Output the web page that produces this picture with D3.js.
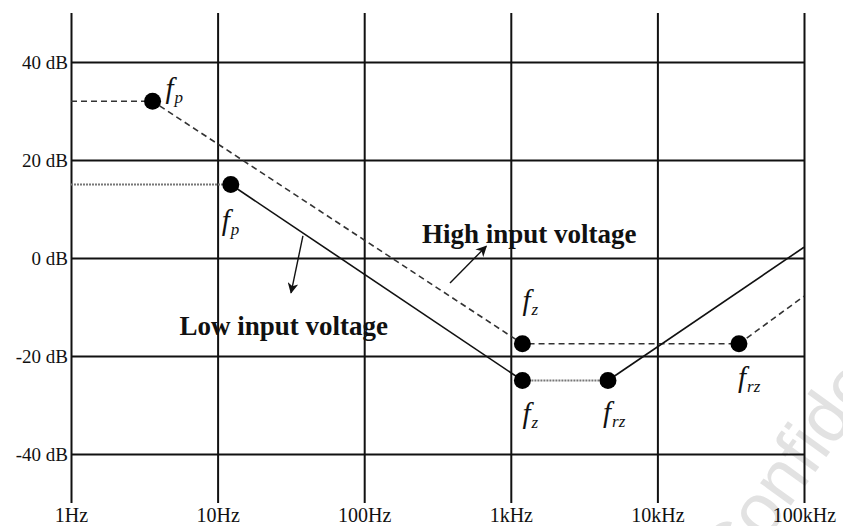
<!DOCTYPE html>
<html lang="en">
<head>
    <meta charset="UTF-8">
    <title>Gain vs frequency</title>
    <style>
        body { margin: 0; background: #fff; }
        svg { display: block; }
    </style>
</head>
<body>
<svg id="chart" width="843" height="526"></svg>

<script src="https://d3js.org/d3.v7.min.js"></script>
<script>
    // axis ticks
    var freqTicks = [1, 10, 100, 1e3, 1e4, 1e5];
    var freqLabels = ["1Hz", "10Hz", "100Hz", "1kHz", "10kHz", "100kHz"];
    var dbTicks = [-40, -20, 0, 20, 40];

    // high input voltage (dashed)
    var highFreq = [1, 3.6, 1200, 36000, 100000];
    var highDb = [32, 32, -17.5, -17.5, -7.8];

    // low input voltage
    var lowFreq = [1, 12.3, 1200, 4600, 100000];
    var lowDb = [15, 15, -25, -25, 2.2];

    // marked corner points: [series, index, label, subscript]
    var corners = [
        ["high", 1, "f", "p"],
        ["low", 1, "f", "p"],
        ["high", 2, "f", "z"],
        ["low", 2, "f", "z"],
        ["low", 3, "f", "rz"],
        ["high", 3, "f", "rz"]
    ];

    var serif = "Liberation Serif, DejaVu Serif, serif";
    var svg = d3.select("#chart");

    var x = d3.scaleLog().domain([1, 1e5]).range([71, 804]);
    var y = d3.scaleLinear().domain([-50, 50]).range([503, 13]);

    // faint watermark
    svg.append("text")
        .attr("transform", "translate(734,584) rotate(-54)")
        .attr("font-family", "Liberation Sans, Arial, sans-serif")
        .attr("font-size", 72)
        .attr("fill", "#e2e2e2")
        .text("Confidential");

    // horizontal grid + dB labels
    var yAxis = svg.append("g")
        .attr("transform", "translate(" + x(1) + ",0)")
        .call(d3.axisLeft(y)
            .tickValues(dbTicks)
            .tickSize(-(x(1e5) - x(1)))
            .tickPadding(3)
            .tickFormat(function (d) { return d + " dB"; }));
    yAxis.select(".domain").remove();
    yAxis.selectAll(".tick line").attr("stroke", "#111").attr("stroke-width", 2);
    yAxis.selectAll(".tick text")
        .attr("font-family", serif).attr("font-size", 19).attr("fill", "#111");

    // vertical grid + frequency labels
    var xAxis = svg.append("g")
        .attr("transform", "translate(0," + y(-50) + ")")
        .call(d3.axisBottom(x)
            .tickValues(freqTicks)
            .tickSize(-(y(-50) - y(50)))
            .tickPadding(5)
            .tickFormat(function (d, i) { return freqLabels[i]; }));
    xAxis.select(".domain").remove();
    xAxis.selectAll(".tick line").attr("stroke", "#111").attr("stroke-width", 2);
    xAxis.selectAll(".tick text")
        .attr("font-family", serif).attr("font-size", 20).attr("fill", "#111");

    var line = d3.line()
        .x(function (d) { return x(d[0]); })
        .y(function (d) { return y(d[1]); });

    var highPts = d3.zip(highFreq, highDb);
    var lowPts = d3.zip(lowFreq, lowDb);

    // dashed curve for high input
    svg.append("path")
        .attr("d", line(highPts))
        .attr("fill", "none")
        .attr("stroke", "#333")
        .attr("stroke-width", 1.6)
        .attr("stroke-dasharray", "6,4");

    // low input: flat parts dotted grey, slopes solid
    d3.pairs(lowPts).forEach(function (seg) {
        var flat = seg[0][1] === seg[1][1];
        svg.append("path")
            .attr("d", line(seg))
            .attr("fill", "none")
            .attr("stroke", flat ? "#777" : "#111")
            .attr("stroke-width", flat ? 2 : 1.6)
            .attr("stroke-dasharray", flat ? "2,1" : null);
    });

    // label offsets from marker (px)
    var labelOffset = [[13, -3], [-9, 45], [0, -34], [0, 42], [-5, 41], [-1, 43]];

    corners.forEach(function (c, i) {
        var pts = c[0] === "high" ? highPts : lowPts;
        var p = pts[c[1]];
        var cx = x(p[0]), cy = y(p[1]);
        svg.append("circle")
            .attr("cx", cx).attr("cy", cy).attr("r", 8.5)
            .attr("fill", "#000");
        var t = svg.append("text")
            .attr("x", cx + labelOffset[i][0])
            .attr("y", cy + labelOffset[i][1])
            .attr("font-family", serif)
            .attr("font-style", "italic")
            .attr("font-size", 29)
            .attr("fill", "#111");
        t.append("tspan").text(c[2]);
        t.append("tspan").attr("font-size", 17).attr("dy", 5).attr("dx", 1).text(c[3]);
    });

    // arrows pointing at the curves
    svg.append("defs").append("marker")
        .attr("id", "head")
        .attr("viewBox", "0 0 10 10")
        .attr("refX", 9).attr("refY", 5)
        .attr("markerWidth", 11).attr("markerHeight", 11)
        .attr("markerUnits", "userSpaceOnUse")
        .attr("orient", "auto")
        .append("path")
        .attr("d", "M0,0L10,5L0,10L3,5Z")
        .attr("fill", "#111");

    var arrows = [
        [[38.2, 4.5], [31.7, -7.1]],
        [[385, -5.1], [680, 2.4]]
    ];
    arrows.forEach(function (a) {
        svg.append("path")
            .attr("d", line(a))
            .attr("stroke", "#111")
            .attr("stroke-width", 1.4)
            .attr("marker-end", "url(#head)");
    });

    // series captions
    var captions = [
        ["High input voltage", 248, 3.1],
        ["Low input voltage", 5.5, -15.7]
    ];
    captions.forEach(function (c) {
        svg.append("text")
            .attr("x", x(c[1]))
            .attr("y", y(c[2]))
            .attr("font-family", serif)
            .attr("font-weight", "bold")
            .attr("font-size", 27)
            .attr("fill", "#111")
            .text(c[0]);
    });
</script>
</body>
</html>
